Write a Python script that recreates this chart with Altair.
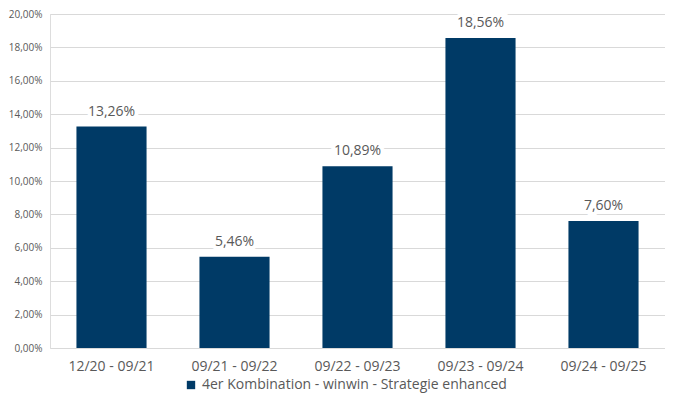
import altair as alt
import pandas as pd

periods = ["12/20 - 09/21", "09/21 - 09/22", "09/22 - 09/23", "09/23 - 09/24", "09/24 - 09/25"]
returns = [0.1326, 0.0546, 0.1089, 0.1856, 0.0760]
series = "4er Kombination - winwin - Strategie enhanced"

df = pd.DataFrame({"period": periods, "ret": returns, "series": [series] * len(periods)})

font = "Open Sans"
gray = "#595959"

base = alt.Chart(df).encode(
    x=alt.X("period:N", sort=periods, title=None,
            scale=alt.Scale(paddingInner=0.43, paddingOuter=0.215),
            axis=alt.Axis(labelAngle=0, domain=False, ticks=False, labelPadding=11,
                          labelFontSize=14, labelColor=gray, labelFont=font)),
    y=alt.Y("ret:Q", title=None,
            scale=alt.Scale(domain=[0, 0.20], nice=False),
            axis=alt.Axis(values=[i / 50 for i in range(11)],
                          labelExpr="replace(format(datum.value, '.2%'), '.', ',')",
                          domain=False, ticks=False, labelPadding=8,
                          labelFontSize=10, labelColor=gray, labelFont=font,
                          grid=True, gridColor="#d9d9d9", gridWidth=1)),
)

bars = base.mark_bar(color="#003a66").encode(
    color=alt.Color("series:N", scale=alt.Scale(range=["#003a66"]),
                    legend=alt.Legend(title=None, orient="none", legendX=134, legendY=364,
                                      symbolType="square", symbolSize=70, labelFontSize=14,
                                      labelLimit=0,
                                      labelColor=gray, labelFont=font, symbolStrokeWidth=0))
)

lab = base.transform_calculate(
    txt="replace(format(datum.ret, '.2%'), '.', ',')"
)
halo = lab.mark_text(baseline="bottom", dy=-8, fontSize=14, font=font, color="white",
                     stroke="white", strokeWidth=8).encode(text="txt:N")
labels = lab.mark_text(baseline="bottom", dy=-8, fontSize=14, font=font, color=gray).encode(text="txt:N")

chart = alt.layer(bars, halo, labels).properties(
    width=615, height=334,
    autosize=alt.AutoSizeParams(type="none"),
    padding={"left": 42, "top": 6, "right": 0, "bottom": 48},
).configure_view(stroke=None).configure(background="white")

chart.save("out.html", embed_options={"renderer": "svg", "actions": False})
